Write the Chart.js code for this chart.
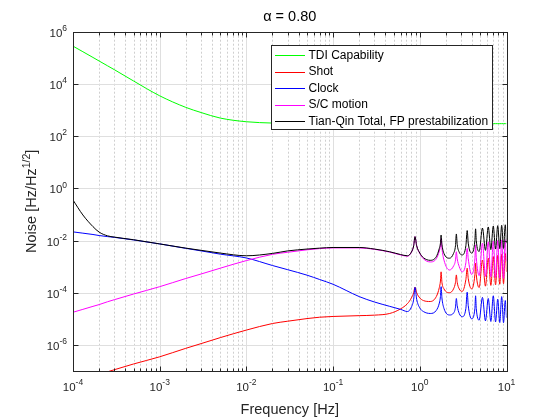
<!DOCTYPE html>
<html>
<head>
<meta charset="utf-8">
<script src="https://cdn.jsdelivr.net/npm/chart.js@4.4.1/dist/chart.umd.min.js"></script>
<style>
  html, body { margin: 0; padding: 0; background: #fff; }
  #wrap { width: 560px; height: 420px; }
</style>
</head>
<body>
<div id="wrap"><canvas id="noiseChart" width="560" height="420"></canvas></div>
<script>
// Frequency grid [Hz] (denser around the TDI resonances)
const freq = [
  1e-4, 1.3e-4, 1.7e-4, 2e-4, 2.5e-4, 3e-4, 5e-4, 1e-3, 2e-3, 3e-3,
  5e-3, 1e-2, 2e-2, 3e-2, 5e-2, 7e-2, 0.1, 0.2, 0.3, 0.45,
  0.6, 0.72, 0.8, 0.85, 0.88, 0.92, 1.0, 1.1, 1.32, 1.55,
  1.68, 1.73, 1.76, 1.8, 1.9, 2.2, 2.45, 2.58, 2.64, 2.7,
  2.85, 3.08, 3.4, 3.52, 3.62, 3.96, 4.32, 4.4, 4.48, 4.84,
  5.28, 5.72, 6.16, 6.6, 7.04, 7.48, 7.92, 8.36, 8.8, 9.24,
  9.68, 10
];

const tdiCapability = [
  2.8e5, 1.71e5, 1.03e5, 7.55e4, 4.94e4, 3.5e4, 1.29e4, 3.5e3, 1.26e3, 800,
  490, 355, 316, 309, 302, 300, 300, 300, 300, 300,
  300, 300, 300, 300, 300, 300, 300, 300, 300, 300,
  300, 300, 300, 300, 300, 300, 300, 300, 300, 300,
  300, 300, 300, 300, 300, 300, 300, 300, 300, 300,
  300, 300, 300, 300, 300, 300, 300, 300, 300, 300,
  300, 300
];

const shotNoise = [
  3.7e-8, 4.8e-8, 6.3e-8, 7.4e-8, 9.3e-8, 1.12e-7, 1.86e-7, 3.5e-7, 7.4e-7, 1.12e-6,
  1.9e-6, 3.7e-6, 6.6e-6, 8.1e-6, 1.02e-5, 1.15e-5, 1.23e-5, 1.32e-5, 1.38e-5, 1.6e-5,
  2.4e-5, 3.8e-5, 6.3e-5, 1.0e-4, 1.62e-4, 1.0e-4, 6.3e-5, 5.0e-5, 4.6e-5, 7.1e-5,
  1.58e-4, 2.8e-4, 6.3e-4, 2.5e-4, 1.4e-4, 1.0e-4, 1.4e-4, 2.5e-4, 4.8e-4, 2.5e-4,
  1.4e-4, 1.12e-4, 3.2e-4, 8.7e-4, 3.5e-4, 1.4e-4, 5.0e-4, 1.35e-3, 5.0e-4, 1.58e-4,
  1.78e-3, 1.78e-4, 2.1e-3, 1.9e-4, 2.4e-3, 2.0e-4, 2.7e-3, 2.1e-4, 2.95e-3, 2.2e-4,
  3.2e-3, 6.3e-4
];

const clockNoise = [
  2.14e-2, 1.91e-2, 1.70e-2, 1.55e-2, 1.41e-2, 1.32e-2, 1.05e-2, 7.4e-3, 5.0e-3, 4.0e-3,
  3.0e-3, 2.14e-3, 1.10e-3, 7.6e-4, 4.7e-4, 3.2e-4, 2.1e-4, 7.1e-5, 4.4e-5, 3.0e-5,
  2.3e-5, 1.9e-5, 2.8e-5, 5.6e-5, 1.62e-4, 5.6e-5, 2.6e-5, 1.9e-5, 1.6e-5, 2.1e-5,
  4.0e-5, 7.1e-5, 1.7e-4, 6.3e-5, 2.5e-5, 1.4e-5, 1.66e-5, 2.8e-5, 6.0e-5, 3.2e-5,
  1.6e-5, 1.2e-5, 2.5e-5, 1.05e-4, 3.2e-5, 1.0e-5, 2.5e-5, 7.6e-5, 2.5e-5, 8.9e-6,
  6.6e-5, 8.3e-6, 6.0e-5, 7.9e-6, 7.6e-5, 7.6e-6, 5.6e-5, 7.2e-6, 7.1e-5, 7.1e-6,
  5.0e-5, 1.1e-5
];

const scMotion = [
  1.78e-5, 2.3e-5, 3.0e-5, 3.5e-5, 4.5e-5, 5.4e-5, 8.9e-5, 1.7e-4, 3.5e-4, 5.2e-4,
  8.7e-4, 1.7e-3, 2.95e-3, 3.55e-3, 4.4e-3, 4.9e-3, 5.2e-3, 5.2e-3, 4.6e-3, 3.6e-3,
  2.8e-3, 2.5e-3, 3.55e-3, 6.3e-3, 1.41e-2, 6.3e-3, 3.2e-3, 2.0e-3, 1.51e-3, 2.0e-3,
  4.0e-3, 6.3e-3, 1.2e-2, 5.0e-3, 1.78e-3, 7.4e-4, 1.05e-3, 1.78e-3, 3.7e-3, 2.0e-3,
  1.0e-3, 6.3e-4, 1.41e-3, 5.0e-3, 2.0e-3, 5.0e-4, 2.0e-3, 6.8e-3, 2.24e-3, 4.5e-4,
  7.9e-3, 4.2e-4, 8.9e-3, 4.0e-4, 9.5e-3, 3.8e-4, 1.0e-2, 3.6e-4, 1.05e-2, 3.55e-4,
  1.07e-2, 1.58e-3
];

const tianqinTotal = [
  0.355, 9.5e-2, 3.4e-2, 2.1e-2, 1.51e-2, 1.35e-2, 1.07e-2, 7.4e-3, 5.1e-3, 4.2e-3,
  3.3e-3, 2.6e-3, 3.2e-3, 4.0e-3, 4.7e-3, 5.1e-3, 5.4e-3, 5.4e-3, 4.7e-3, 3.7e-3,
  2.9e-3, 2.6e-3, 3.6e-3, 6.3e-3, 1.41e-2, 6.3e-3, 3.3e-3, 2.2e-3, 1.74e-3, 2.4e-3,
  5.0e-3, 7.9e-3, 1.62e-2, 7.1e-3, 3.2e-3, 2.1e-3, 3.2e-3, 6.3e-3, 1.78e-2, 7.1e-3,
  3.55e-3, 2.8e-3, 6.3e-3, 2.4e-2, 7.9e-3, 3.3e-3, 1.0e-2, 2.8e-2, 1.0e-2, 3.8e-3,
  3.0e-2, 4.2e-3, 3.3e-2, 4.5e-3, 3.55e-2, 4.7e-3, 3.7e-2, 4.9e-3, 3.8e-2, 5.0e-3,
  4.0e-2, 7.9e-3
];

// Axis decoration
const xTickExps = [-4, -3, -2, -1, 0, 1];
const yTickExps = [6, 4, 2, 0, -2, -4, -6];
const minorMantissas = [2, 3, 4, 5, 6, 7, 8, 9];

const FONT = '"Liberation Sans", Arial, Helvetica, sans-serif';
const AXIS_COLOR = '#262626';

function toPoints(values) {
  return freq.map((f, i) => ({ x: f, y: values[i] }));
}

function drawPower(ctx, exp, x, y, align) {
  ctx.font = '11.5px ' + FONT;
  const wb = ctx.measureText('10').width;
  ctx.font = '8.5px ' + FONT;
  const we = ctx.measureText(String(exp)).width;
  const total = wb + we;
  const left = align === 'right' ? x - total : x - total / 2;
  ctx.textAlign = 'left';
  ctx.textBaseline = 'middle';
  ctx.font = '11.5px ' + FONT;
  ctx.fillText('10', left, y + 2);
  ctx.font = '8.5px ' + FONT;
  ctx.fillText(String(exp), left + wb, y - 3);
}

const matlabAxes = {
  id: 'matlabAxes',
  beforeDatasetsDraw(chart) {
    const { ctx, chartArea: a, scales: { x, y } } = chart;
    ctx.save();
    ctx.lineWidth = 1;

    // minor x grid (dotted)
    ctx.strokeStyle = '#cfcfcf';
    ctx.setLineDash([2, 2]);
    for (let e = -4; e < 1; e++) {
      minorMantissas.forEach(m => {
        const px = Math.round(x.getPixelForValue(m * Math.pow(10, e))) + 0.5;
        ctx.beginPath();
        ctx.moveTo(px, a.top);
        ctx.lineTo(px, a.bottom);
        ctx.stroke();
      });
    }

    // major grid
    ctx.setLineDash([]);
    ctx.strokeStyle = '#dfdfdf';
    xTickExps.slice(1, -1).forEach(e => {
      const px = Math.round(x.getPixelForValue(Math.pow(10, e))) + 0.5;
      ctx.beginPath();
      ctx.moveTo(px, a.top);
      ctx.lineTo(px, a.bottom);
      ctx.stroke();
    });
    yTickExps.slice(1).forEach(e => {
      const py = Math.round(y.getPixelForValue(Math.pow(10, e))) + 0.5;
      ctx.beginPath();
      ctx.moveTo(a.left, py);
      ctx.lineTo(a.right, py);
      ctx.stroke();
    });
    ctx.restore();
  },
  afterDraw(chart) {
    const { ctx, chartArea: a, scales: { x, y } } = chart;
    const L = Math.round(a.left) + 0.5, R = Math.round(a.right) + 0.5;
    const T = Math.round(a.top) + 0.5, B = Math.round(a.bottom) + 0.5;
    ctx.save();
    ctx.strokeStyle = AXIS_COLOR;
    ctx.fillStyle = AXIS_COLOR;
    ctx.lineWidth = 1;

    // ticks, inward on all four sides
    ctx.beginPath();
    for (let e = -4; e < 1; e++) {
      minorMantissas.forEach(m => {
        const px = Math.round(x.getPixelForValue(m * Math.pow(10, e))) + 0.5;
        ctx.moveTo(px, B); ctx.lineTo(px, B - 3);
        ctx.moveTo(px, T); ctx.lineTo(px, T + 3);
      });
    }
    xTickExps.forEach(e => {
      const px = Math.round(x.getPixelForValue(Math.pow(10, e))) + 0.5;
      ctx.moveTo(px, B); ctx.lineTo(px, B - 5);
      ctx.moveTo(px, T); ctx.lineTo(px, T + 5);
    });
    yTickExps.forEach(e => {
      const py = Math.round(y.getPixelForValue(Math.pow(10, e))) + 0.5;
      ctx.moveTo(L, py); ctx.lineTo(L + 5, py);
      ctx.moveTo(R, py); ctx.lineTo(R - 5, py);
    });
    ctx.stroke();

    // box
    ctx.strokeRect(L, T, R - L, B - T);

    // tick labels
    xTickExps.forEach(e => {
      drawPower(ctx, e, x.getPixelForValue(Math.pow(10, e)), 386, 'center');
    });
    yTickExps.forEach(e => {
      drawPower(ctx, e, 67, y.getPixelForValue(Math.pow(10, e)), 'right');
    });

    // title and axis labels
    ctx.textAlign = 'center';
    ctx.textBaseline = 'middle';
    ctx.font = '14.5px ' + FONT;
    ctx.fillStyle = '#000';
    ctx.fillText('\u03b1 = 0.80', (a.left + a.right) / 2, 17);
    ctx.fillStyle = AXIS_COLOR;
    ctx.fillText('Frequency [Hz]', (a.left + a.right) / 2, 410);

    ctx.save();
    ctx.translate(32, (a.top + a.bottom) / 2);
    ctx.rotate(-Math.PI / 2);
    ctx.font = '14.5px ' + FONT;
    const p1 = 'Noise [Hz/Hz', p3 = ']';
    const w1 = ctx.measureText(p1).width, w3 = ctx.measureText(p3).width;
    ctx.font = '10.5px ' + FONT;
    const w2 = ctx.measureText('1/2').width;
    let sx = -(w1 + w2 + w3) / 2;
    ctx.textAlign = 'left';
    ctx.font = '14.5px ' + FONT;
    ctx.fillText(p1, sx, 0);
    ctx.font = '10.5px ' + FONT;
    ctx.fillText('1/2', sx + w1, -5);
    ctx.font = '14.5px ' + FONT;
    ctx.fillText(p3, sx + w1 + w2, 0);
    ctx.restore();

    // legend box
    const bx = 271.5, by = 45.5, bw = 221, bh = 84;
    ctx.fillStyle = '#fff';
    ctx.fillRect(bx, by, bw, bh);
    ctx.strokeStyle = AXIS_COLOR;
    ctx.strokeRect(bx, by, bw, bh);
    ctx.font = '12px ' + FONT;
    ctx.textAlign = 'left';
    ctx.textBaseline = 'middle';
    chart.data.datasets.forEach((ds, i) => {
      const ry = 55 + i * 16.5;
      ctx.strokeStyle = ds.borderColor;
      ctx.beginPath();
      ctx.moveTo(275, Math.round(ry) + 0.5);
      ctx.lineTo(305, Math.round(ry) + 0.5);
      ctx.stroke();
      ctx.fillStyle = '#000';
      ctx.fillText(ds.label, 308.5, ry + 0.5);
    });
    ctx.restore();
  }
};

const lineStyle = {
  borderWidth: 1,
  pointRadius: 0,
  fill: false,
  cubicInterpolationMode: 'monotone'
};

new Chart(document.getElementById('noiseChart'), {
  type: 'line',
  data: {
    datasets: [
      Object.assign({ label: 'TDI Capability', data: toPoints(tdiCapability), borderColor: '#00ff00', order: 5 }, lineStyle),
      Object.assign({ label: 'Shot', data: toPoints(shotNoise), borderColor: '#ff0000', order: 4 }, lineStyle),
      Object.assign({ label: 'Clock', data: toPoints(clockNoise), borderColor: '#0000ff', order: 3 }, lineStyle),
      Object.assign({ label: 'S/C motion', data: toPoints(scMotion), borderColor: '#ff00ff', order: 2 }, lineStyle),
      Object.assign({ label: 'Tian-Qin Total, FP prestabilization', data: toPoints(tianqinTotal), borderColor: '#000000', order: 1 }, lineStyle)
    ]
  },
  options: {
    responsive: false,
    animation: false,
    events: [],
    layout: { padding: { left: 73, right: 53.5, top: 31.7, bottom: 49 } },
    plugins: {
      legend: { display: false },
      tooltip: { enabled: false },
      title: { display: false }
    },
    scales: {
      x: {
        type: 'logarithmic',
        display: false,
        min: 1e-4,
        max: 10
      },
      y: {
        type: 'logarithmic',
        display: false,
        min: 1e-7,
        max: 1e6
      }
    }
  },
  plugins: [matlabAxes]
});
</script>
</body>
</html>
